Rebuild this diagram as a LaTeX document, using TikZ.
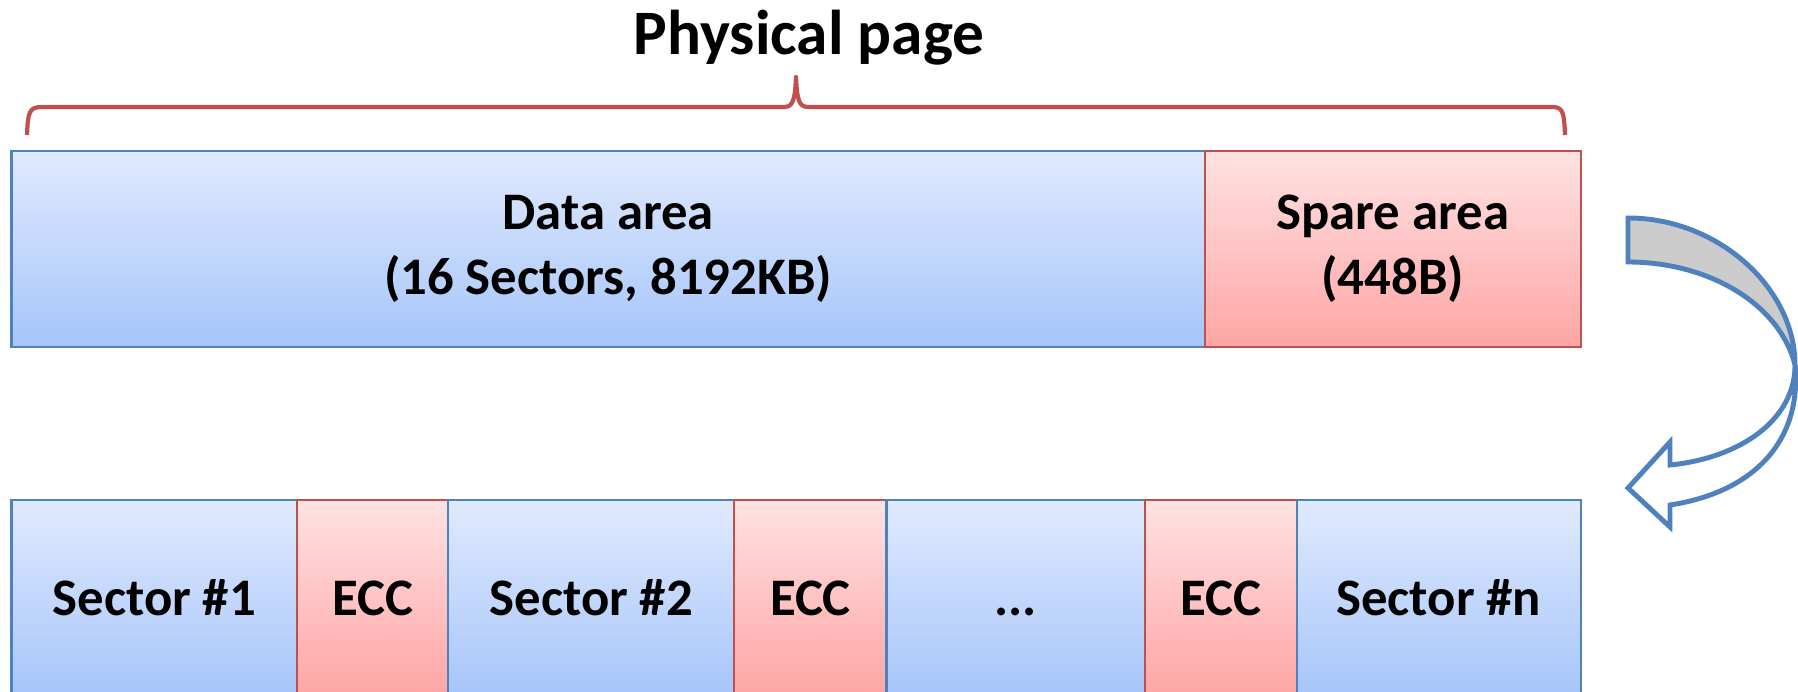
\documentclass[tikz,border=0pt]{standalone}
\usepackage{fontspec}
\setmainfont{Carlito}
\usepackage{tikz}
\usetikzlibrary{positioning}
\definecolor{bluetop}{RGB}{224,234,253}
\definecolor{bluebot}{RGB}{166,197,250}
\definecolor{blueline}{RGB}{79,129,189}
\definecolor{redtop}{RGB}{255,226,226}
\definecolor{redbot}{RGB}{255,165,165}
\definecolor{redline}{RGB}{192,80,77}

\begin{document}
\begin{tikzpicture}[
    x=0.01cm, y=-0.01cm,
    node distance=0pt,
    blk/.style={draw=blueline, line width=0.6pt, top color=bluetop, bottom color=bluebot, align=center, inner sep=0pt, outer sep=0pt,
      minimum height=1.96cm, font=\fontsize{15}{18.5}\selectfont\bfseries},
    spr/.style={blk, draw=redline, top color=redtop, bottom color=redbot},
    pagebrace/.style={draw=redline, line width=1.2pt, line join=round},
    bigarrow/.style={draw=blueline, line width=1.4pt, line join=miter}
  ]
    \clip (0,0) rectangle (1798,692);

    % top row: one physical page
    \node[blk, anchor=north west, minimum width=11.925cm] (data) at (11.5,151) {Data area\\(16 Sectors, 8192KB)};
    \node[spr, right=of data, minimum width=3.76cm] (spare) {Spare area\\(448B)};

    \draw[pagebrace] (27,135) .. controls (28,112) and (29,107) .. (42,107) -- (784,107)
      .. controls (793,107) and (795,100) .. (796,77) .. controls (797,100) and (799,107) .. (808,107)
      -- (1552,107) .. controls (1563,107) and (1564,112) .. (1565,135);
    \node[font=\fontsize{18}{21}\selectfont\bfseries] (title) at (809,38) {Physical page};

    % bottom row: sectors and ECC
    \node[blk, anchor=north west, minimum width=2.855cm] (sec1) at (11.5,500) {Sector \#1};
    \node[spr, right=of sec1, minimum width=1.51cm] (ecc1) {ECC};
    \node[blk, right=of ecc1, minimum width=2.86cm] (sec2) {Sector \#2};
    \node[spr, right=of sec2, minimum width=1.52cm] (ecc2) {ECC};
    \node[blk, right=of ecc2, minimum width=2.58cm] (dots) {\vphantom{Sector \#1}...};
    \node[spr, right=of dots, minimum width=1.52cm] (ecc3) {ECC};
    \node[blk, right=of ecc3, minimum width=2.84cm] (secn) {Sector \#n};

    % curved arrow from spare area down to the sectors
    \fill[gray!40] (1628,218) .. controls (1718,218) and (1795,288) .. (1795,365)
      .. controls (1780,305) and (1710,262) .. (1628,262) -- cycle;
    \draw[bigarrow] (1628,218) .. controls (1718,218) and (1795,288) .. (1795,365)
      .. controls (1780,305) and (1710,262) .. (1628,262) -- cycle;
    \filldraw[bigarrow, fill=white] (1795,365) .. controls (1795,420) and (1740,458) .. (1670,465)
      -- (1670,442) -- (1628,488) -- (1670,527) -- (1670,505)
      .. controls (1755,492) and (1802,440) .. (1795,365) -- cycle;
  \end{tikzpicture}
\end{document}
